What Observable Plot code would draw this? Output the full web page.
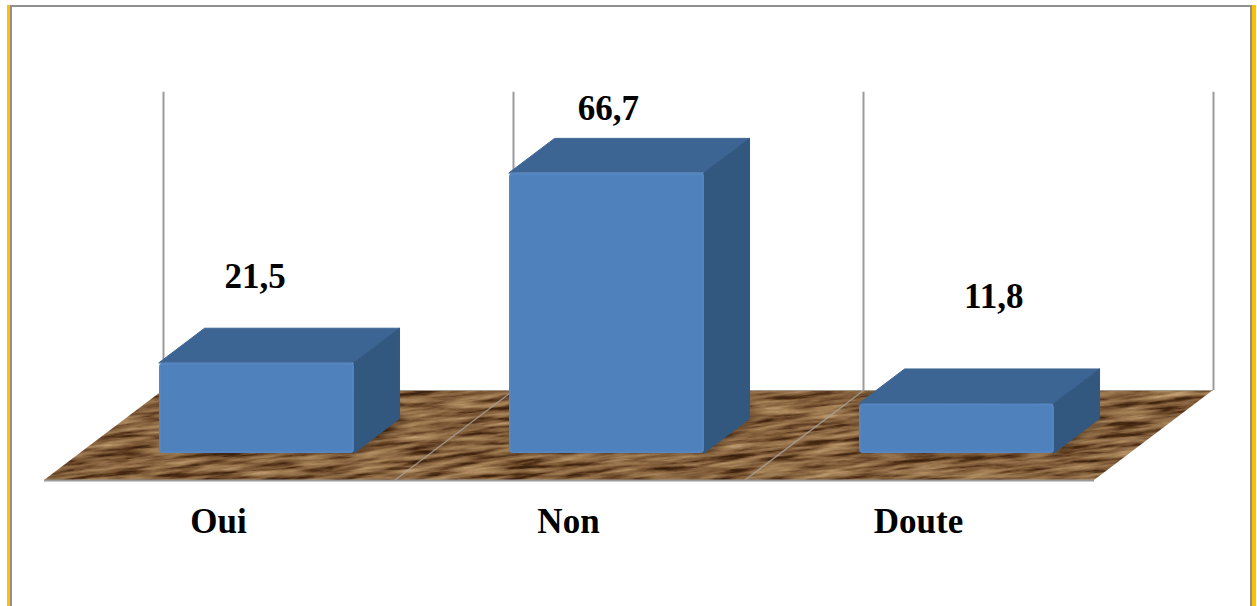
<!DOCTYPE html>
<html lang="fr">
<head>
<meta charset="utf-8">
<script src="https://cdn.jsdelivr.net/npm/d3@7"></script>
<script src="https://cdn.jsdelivr.net/npm/@observablehq/plot@0.6"></script>
<style>
  html, body { margin: 0; background: #fff; width: 1257px; height: 606px; overflow: hidden; }
  #chart { position: absolute; left: 0; top: 0; }
  #chart svg { display: block; background: transparent; }
  /* Gold page border with its grey inner rule; open at the bottom */
  .frame { position: absolute; left: 7px; top: 5px; width: 1249px; height: 601px; box-sizing: border-box;
           border-left: 3px solid #ffc000; border-right: 4px solid #ffc000; }
  .frame div { position: absolute; left: 0; right: 0; top: 0; bottom: 0;
               border: 2px solid #8f8f8f; border-bottom: 0; }
</style>
</head>
<body>
<div class="frame"><div></div></div>
<svg width="0" height="0" style="position:absolute">
  <defs>
    <filter id="grain" x="0" y="0" width="100%" height="100%" color-interpolation-filters="sRGB">
      <feTurbulence type="fractalNoise" baseFrequency="0.02 0.21" numOctaves="5" seed="7"/>
      <feColorMatrix type="matrix" values="1 0 0 0 0  1 0 0 0 0  1 0 0 0 0  0 0 0 0 1"/>
      <feComponentTransfer>
        <feFuncR type="table" tableValues="0.20 0.20 0.28 0.46 0.58 0.67 0.77 0.84"/>
        <feFuncG type="table" tableValues="0.11 0.11 0.16 0.32 0.44 0.53 0.64 0.71"/>
        <feFuncB type="table" tableValues="0.04 0.04 0.07 0.19 0.29 0.36 0.47 0.54"/>
      </feComponentTransfer>
    </filter>
    <pattern id="wood" patternUnits="userSpaceOnUse" width="1800" height="1400" patternTransform="rotate(-6) translate(-200 -100)">
      <rect width="1800" height="1400" filter="url(#grain)"/>
    </pattern>
  </defs>
</svg>
<div id="chart"></div>
<script>
const categories = ["Oui", "Non", "Doute"];
const values = [21.5, 66.7, 11.8];
const valueLabels = ["21,5", "66,7", "11,8"];

// Oblique projection: depth 0 is the front of the floor, depth 1 the back wall.
const shear = 0.34;            // sideways drift over the full depth, in categories
const rise = 21.43;            // upward drift over the full depth, in value units
const planeDepth = 0.3;        // depth of the bars' front faces, where y = value
const backDepth = 0.683;       // depth of the bars' rear faces
const barStart = 0.2266;       // bar's left edge inside its category slot
const barWidth = 0.557;
const wallTop = 71;

const px = (slot, depth) => slot + depth * shear;
const py = (value, depth) => value + (depth - planeDepth) * rise;

const slots = d3.range(categories.length + 1);
const bars = categories.map((name, i) => ({name, value: values[i], text: valueLabels[i], left: i + barStart}));
const faceDepths = [planeDepth, backDepth];

// Floor as a parallelogram, described by its horizontal edges
const floor = [0, 1].map(d => ({
  y: py(0, d), x1: px(0, d), x2: px(categories.length, d)
}));

// Bar faces
const topFaces = bars.flatMap(b => faceDepths.map(d => ({
  z: b.name, y: py(b.value, d), x1: px(b.left, d), x2: px(b.left + barWidth, d)
})));
const sideFaces = bars.flatMap(b => faceDepths.map(d => ({
  z: b.name, x: px(b.left + barWidth, d), y1: py(0, d), y2: py(b.value, d)
})));
const shadows = bars.flatMap(b => [planeDepth, backDepth + 0.02].map(d => ({
  z: b.name, y: py(0, d), x1: px(b.left - 0.005, d), x2: px(b.left + barWidth + 0.02, d)
})));

// Value labels sit at hand-chosen heights above the bars
const labelLift = [20.6, 15.4, 25.6];
const labelShift = [-0.005, 0.004, 0.105];
const barCentre = b => px(b.left + barWidth / 2, planeDepth);

const plot = Plot.plot({
  width: 1257,
  height: 606,
  margin: 0,
  style: {background: "transparent"},
  x: {domain: [0, 3], range: [44, 1094], axis: null},
  y: {domain: [0, 70], range: [453, 159], axis: null},
  marks: [
    // Back wall rules
    Plot.ruleX(slots, {x: s => px(s, 1), y1: py(0, 1), y2: py(wallTop, 1), stroke: "#9b9b9b", strokeWidth: 2}),

    // Floor with its wood texture, edge and slot separators
    Plot.areaX(floor, {y: "y", x1: "x1", x2: "x2", fill: "url(#wood)"}),
    Plot.link(slots.slice(1, -1), {
      x1: s => px(s, 0), y1: py(0, 0), x2: s => px(s, 1), y2: py(0, 1),
      stroke: "#a8a39a", strokeWidth: 1.5, strokeOpacity: 0.8
    }),
    Plot.ruleY([py(0, 0)], {x1: px(0, 0), x2: px(3, 0), stroke: "#9a9a9a", strokeWidth: 2}),
    Plot.ruleY([py(0, 1)], {x1: px(0, 1), x2: px(3, 1), stroke: "#a09a90", strokeWidth: 1}),

    // Soft shadows on the floor
    Plot.areaX(shadows, {z: "z", y: "y", x1: "x1", x2: "x2", fill: "#2a1a0a", fillOpacity: 0.35, imageFilter: "blur(3px)"}),

    // The bars: top, side, front
    Plot.areaX(topFaces, {z: "z", y: "y", x1: "x1", x2: "x2", fill: "#3d6593", stroke: "#3d6593", strokeWidth: 1, strokeLinejoin: "round"}),
    Plot.areaY(sideFaces, {z: "z", x: "x", y1: "y1", y2: "y2", fill: "#335880", stroke: "#335880", strokeWidth: 1, strokeLinejoin: "round"}),
    Plot.rect(bars, {
      x1: b => px(b.left, planeDepth), x2: b => px(b.left + barWidth, planeDepth), y1: 0, y2: "value",
      inset: 1, fill: "#4f81bd", stroke: "#5486c3", strokeWidth: 2, rx: 3
    }),

    // Labels
    Plot.text(bars, {
      x: (b, i) => barCentre(b) + labelShift[i],
      y: (b, i) => b.value + labelLift[i],
      text: "text", fontFamily: "Liberation Serif", fontWeight: "bold", fontSize: 35, fill: "#000"
    }),
    Plot.text(bars, {
      x: b => barCentre(b) - 0.11,
      y: -16.2,
      text: "name", fontFamily: "Liberation Serif", fontWeight: "bold", fontSize: 35, fill: "#000"
    })
  ]
});
document.getElementById("chart").append(plot);
</script>
</body>
</html>
